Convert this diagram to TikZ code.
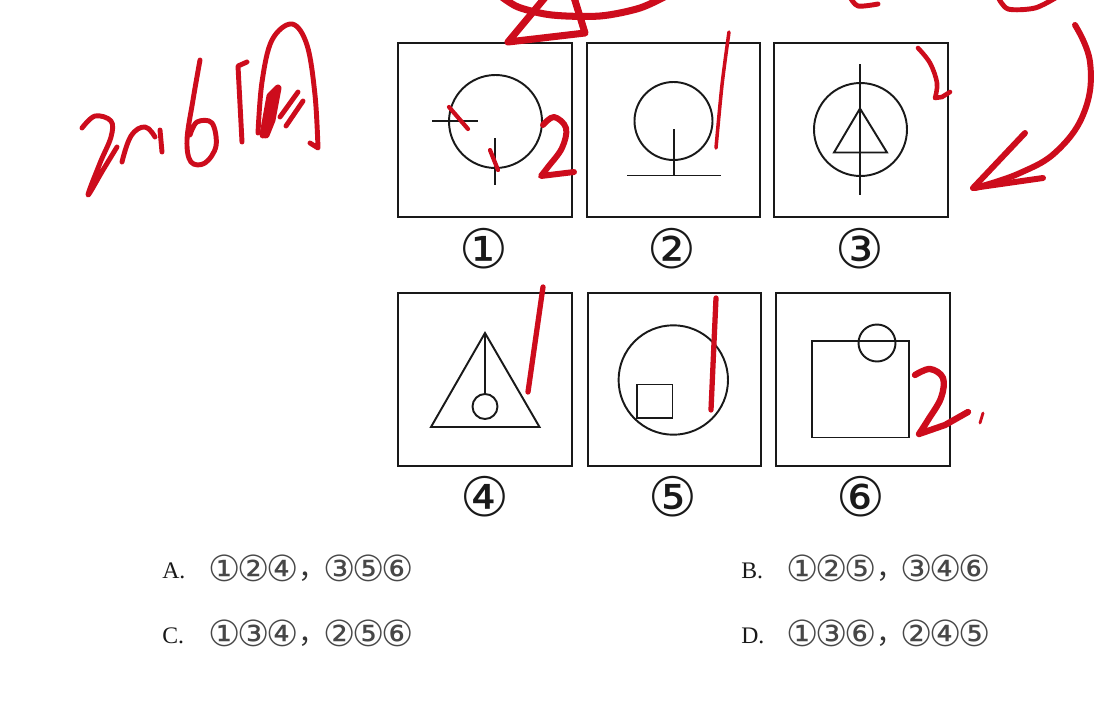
\documentclass[tikz,border=0pt]{standalone}
\usepackage{fontspec}
\setmainfont{Liberation Serif}
\newfontfamily\circfont{DejaVu Sans}
\newfontfamily\cjk{Noto Sans CJK SC}
\definecolor{ink}{RGB}{25,25,25}
\definecolor{pen}{RGB}{205,12,28}
\begin{document}
\begin{tikzpicture}[x=0.02cm,y=-0.02cm,
  fig/.style={draw=ink,line width=1.1pt},
  frame/.style={draw=ink,line width=1.4pt},
  lab/.style={font=\circfont\fontsize{31}{31}\selectfont,inner sep=0pt,text=ink},
  optletter/.style={font=\fontsize{13.5}{13.5}\selectfont,inner sep=0pt,anchor=base west,text=ink},
  odig/.style={font=\circfont\fontsize{20.5}{20.5}\selectfont,inner sep=0pt,text=black!72},
  comma/.style={font=\cjk\fontsize{16}{16}\selectfont,inner sep=0pt,anchor=base west,text=black!80},
  penstroke/.style={draw=pen,line width=2.8pt,line cap=round,line join=round}]
\useasboundingbox[fill=white] (0,0) rectangle (1120,724);

% ---- frames
\draw[frame] (398,43) rectangle (572,217);
\draw[frame] (587,43) rectangle (760,217);
\draw[frame] (774,43) rectangle (948,217);
\draw[frame] (398,293) rectangle (572,466);
\draw[frame] (588,293) rectangle (761,466);
\draw[frame] (776,293) rectangle (950,466);

% ---- figure 1
\draw[fig] (495.5,121.5) circle[radius=46.5];
\draw[fig] (432,121) -- (478,121);
\draw[fig] (495,138) -- (495,185);
% ---- figure 2
\draw[fig] (673.5,121) circle[radius=39];
\draw[fig] (674,129) -- (674,175.5);
\draw[fig] (627,175.5) -- (721,175.5);
% ---- figure 3
\draw[fig] (860.5,129.5) circle[radius=46.5];
\draw[fig] (860,64) -- (860,195);
\draw[fig] (860,108.5) -- (887,152.5) -- (834,152.5) -- cycle;
% ---- figure 4
\draw[fig] (485,333) -- (539.5,427) -- (431,427) -- cycle;
\draw[fig] (485,333) -- (485,394);
\draw[fig] (485,406.5) circle[radius=12.5];
% ---- figure 5
\draw[fig] (673.3,380) circle[radius=54.7];
\draw[fig] (637,384.5) rectangle (672.5,418);
% ---- figure 6
\draw[fig] (812,341) rectangle (909,437.5);
\draw[fig] (877,343) circle[radius=18.5];

% ---- labels
\node[lab] (l1) at (484,249) {①};
\node[lab] (l2) at (672,249) {②};
\node[lab] (l3) at (860,249) {③};
\node[lab] (l4) at (485,497) {④};
\node[lab] (l5) at (673,497) {⑤};
\node[lab] (l6) at (861,497) {⑥};

% ---- options
\node[optletter] (oa) at (162,578) {A.};
\node[odig] (oa1) at (225,568) {①};
\node[odig] (oa2) at (254,568) {②};
\node[odig] (oa3) at (283,568) {④};
\node[comma] (oac) at (298,578) {，};
\node[odig] (oa4) at (340,568) {③};
\node[odig] (oa5) at (369,568) {⑤};
\node[odig] (oa6) at (398,568) {⑥};

\node[optletter] (ob) at (741,578) {B.};
\node[odig] (ob1) at (803,568) {①};
\node[odig] (ob2) at (832,568) {②};
\node[odig] (ob3) at (861,568) {⑤};
\node[comma] (obc) at (876,578) {，};
\node[odig] (ob4) at (917,568) {③};
\node[odig] (ob5) at (946,568) {④};
\node[odig] (ob6) at (975,568) {⑥};

\node[optletter] (oc) at (162,643) {C.};
\node[odig] (oc1) at (225,633) {①};
\node[odig] (oc2) at (254,633) {③};
\node[odig] (oc3) at (283,633) {④};
\node[comma] (occ) at (298,643) {，};
\node[odig] (oc4) at (340,633) {②};
\node[odig] (oc5) at (369,633) {⑤};
\node[odig] (oc6) at (398,633) {⑥};

\node[optletter] (od) at (741,643) {D.};
\node[odig] (od1) at (803,633) {①};
\node[odig] (od2) at (832,633) {③};
\node[odig] (od3) at (861,633) {⑥};
\node[comma] (odc) at (876,643) {，};
\node[odig] (od4) at (917,633) {②};
\node[odig] (od5) at (946,633) {④};
\node[odig] (od6) at (975,633) {⑤};

% ---- red handwriting
% "2016" and character
\draw[penstroke] plot[smooth,tension=0.6] coordinates {(82,128) (95,116) (111,121) (111,137) (100,163) (88,195) (103,170) (117,147)};
\draw[penstroke] plot[smooth,tension=0.7] coordinates {(122,162) (131,136) (145,127) (155,137)};
\draw[penstroke] (160,130) -- (162,152);
\draw[penstroke] plot[smooth,tension=0.6] coordinates {(200,60) (193,100) (187,140) (191,162) (205,163) (216,146) (212,123) (197,122) (190,135)};
\draw[penstroke] (247,62) -- (238,66) -- (242,142);
\draw[penstroke] plot[smooth,tension=0.6] coordinates {(258,133) (262,82) (272,40) (292,24) (307,45) (315,95) (318,148)} -- (310,143);
\draw[penstroke,line width=4pt] (263,135) -- (270,96) -- (278,88) -- (272,120) -- (266,135);
\draw[penstroke] (280,117) -- (298,92);
\draw[penstroke] (286,126) -- (303,101);

% top scribbles
\draw[penstroke,line width=4pt] plot[smooth] coordinates {(498,-6) (518,7) (552,15) (600,16) (640,8) (670,-6)};
\draw[penstroke,line width=4pt] (548,-6) -- (508,42) -- (585,33) -- (573,-6);
\draw[penstroke] plot[smooth] coordinates {(850,-3) (858,6) (878,4)};
\draw[penstroke] plot[smooth] coordinates {(998,-3) (1008,9) (1035,8) (1057,-3)};
% curved arrow
\draw[penstroke,line width=3.4pt] plot[smooth,tension=0.7] coordinates {(1075,25) (1090,62) (1085,110) (1058,150) (1020,173) (975,188)};
\draw[penstroke,line width=3.4pt] (1025,133) -- (973,188) -- (1043,178);

% marks on figures
\draw[penstroke,line width=2.4pt] (449,107) -- (468,129);
\draw[penstroke,line width=2.4pt] (490,150) -- (498,170);
\draw[penstroke,line width=3.4pt] plot[smooth,tension=0.6] coordinates {(543,125) (554,117) (566,128) (562,148) (548,167) (541,176)} -- (574,172);
\draw[penstroke,line width=2pt] plot[smooth] coordinates {(729,32) (722,85) (716,148)};
\draw[penstroke,line width=2.6pt] plot[smooth,tension=0.6] coordinates {(918,48) (930,63) (937,83) (935,98)} -- (942,97) -- (950,92);
\draw[penstroke,line width=3pt] (543,287) -- (528,392);
\draw[penstroke,line width=3pt] (716,298) -- (711,410);
\draw[penstroke,line width=3.6pt] plot[smooth,tension=0.6] coordinates {(915,375) (930,369) (943,378) (941,398) (928,420) (919,434)} -- (945,425) -- (968,412);
\draw[penstroke,line width=1.6pt] (980,423) -- (983,413);
\end{tikzpicture}
\end{document}
